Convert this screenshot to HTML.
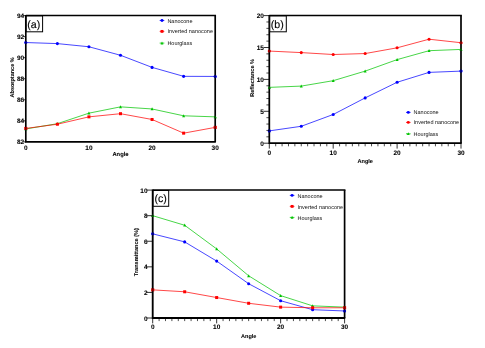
<!DOCTYPE html>
<html><head><meta charset="utf-8"><title>Figure</title>
<style>
html,body{margin:0;padding:0;background:#fff;}
body{width:485px;height:348px;overflow:hidden;}
svg{display:block;will-change:transform;text-rendering:geometricPrecision;font-family:"Liberation Sans",sans-serif;}
.t{font-size:6.45px;font-weight:bold;fill:#000;stroke:#000;stroke-width:.08px;}
.l{font-weight:bold;fill:#000;stroke:#000;stroke-width:.06px;}
.g{font-size:5.5px;fill:#111;}
.p{font-size:10.6px;fill:#000;stroke:#000;stroke-width:.12px;}
</style></head><body>
<svg width="485" height="348" viewBox="0 0 485 348">
<rect width="485" height="348" fill="#fff"/>
<g id="a">
<polyline points="25.8,42.54 57.37,43.6 88.93,46.75 120.5,55.28 152.07,67.38 183.63,76.33 215.2,76.43" fill="none" stroke="#0000ff" stroke-width="0.72"/>
<circle cx="25.8" cy="42.54" r="1.55" fill="#0000ff"/>
<circle cx="57.37" cy="43.6" r="1.55" fill="#0000ff"/>
<circle cx="88.93" cy="46.75" r="1.55" fill="#0000ff"/>
<circle cx="120.5" cy="55.28" r="1.55" fill="#0000ff"/>
<circle cx="152.07" cy="67.38" r="1.55" fill="#0000ff"/>
<circle cx="183.63" cy="76.33" r="1.55" fill="#0000ff"/>
<circle cx="215.2" cy="76.43" r="1.55" fill="#0000ff"/>
<polyline points="25.8,128.95 57.37,123.69 88.93,113.17 120.5,106.85 152.07,108.96 183.63,115.8 215.2,116.85" fill="none" stroke="#00c400" stroke-width="0.72"/>
<path d="M25.8 127.3l1.5 3h-3z" fill="#00c400"/>
<path d="M57.37 122.04l1.5 3h-3z" fill="#00c400"/>
<path d="M88.93 111.52l1.5 3h-3z" fill="#00c400"/>
<path d="M120.5 105.2l1.5 3h-3z" fill="#00c400"/>
<path d="M152.07 107.31l1.5 3h-3z" fill="#00c400"/>
<path d="M183.63 114.15l1.5 3h-3z" fill="#00c400"/>
<path d="M215.2 115.2l1.5 3h-3z" fill="#00c400"/>
<polyline points="25.8,128.43 57.37,124.22 88.93,116.85 120.5,113.69 152.07,119.48 183.63,133.16 215.2,127.38" fill="none" stroke="#ff0000" stroke-width="0.72"/>
<rect x="24.3" y="126.93" width="3" height="3" fill="#ff0000"/>
<rect x="55.87" y="122.72" width="3" height="3" fill="#ff0000"/>
<rect x="87.43" y="115.35" width="3" height="3" fill="#ff0000"/>
<rect x="119" y="112.19" width="3" height="3" fill="#ff0000"/>
<rect x="150.57" y="117.98" width="3" height="3" fill="#ff0000"/>
<rect x="182.13" y="131.66" width="3" height="3" fill="#ff0000"/>
<rect x="213.7" y="125.88" width="3" height="3" fill="#ff0000"/>
<path d="M25.8 15.6H216.05" fill="none" stroke="#000" stroke-width="1.5"/>
<path d="M215.2 15.6V141.9" fill="none" stroke="#000" stroke-width="1.7"/>
<path d="M25.8 14.95V141.9H215.85" fill="none" stroke="#000" stroke-width="1.65"/>
<g opacity="0.45">
<circle cx="25.8" cy="42.54" r="1.55" fill="#0000ff"/>
<circle cx="215.2" cy="76.43" r="1.55" fill="#0000ff"/>
<path d="M25.8 127.3l1.5 3h-3z" fill="#00c400"/>
<path d="M215.2 115.2l1.5 3h-3z" fill="#00c400"/>
<rect x="24.3" y="126.93" width="3" height="3" fill="#ff0000"/>
<rect x="213.7" y="125.88" width="3" height="3" fill="#ff0000"/>
</g>
<path d="M25.8 141.9h-2.8" stroke="#000" stroke-width="0.8"/>
<text x="24.1" y="144.25" text-anchor="end" class="t">82</text>
<path d="M25.8 120.85h-2.8" stroke="#000" stroke-width="0.8"/>
<text x="24.1" y="123.2" text-anchor="end" class="t">84</text>
<path d="M25.8 99.8h-2.8" stroke="#000" stroke-width="0.8"/>
<text x="24.1" y="102.15" text-anchor="end" class="t">86</text>
<path d="M25.8 78.75h-2.8" stroke="#000" stroke-width="0.8"/>
<text x="24.1" y="81.1" text-anchor="end" class="t">88</text>
<path d="M25.8 57.7h-2.8" stroke="#000" stroke-width="0.8"/>
<text x="24.1" y="60.05" text-anchor="end" class="t">90</text>
<path d="M25.8 36.65h-2.8" stroke="#000" stroke-width="0.8"/>
<text x="24.1" y="39" text-anchor="end" class="t">92</text>
<path d="M25.8 15.6h-2.8" stroke="#000" stroke-width="0.8"/>
<text x="24.1" y="17.95" text-anchor="end" class="t">94</text>
<text x="25.8" y="149.6" text-anchor="middle" class="t">0</text>
<text x="88.93" y="149.6" text-anchor="middle" class="t">10</text>
<text x="152.07" y="149.6" text-anchor="middle" class="t">20</text>
<text x="215.2" y="149.6" text-anchor="middle" class="t">30</text>
<text x="120.5" y="156.1" text-anchor="middle" class="l" font-size="5.8">Angle</text>
<text transform="translate(14.2 77.4) rotate(-90)" text-anchor="middle" class="l" font-size="5.5">Absorptance %</text>
<rect x="26.3" y="16" width="16.3" height="15.8" fill="#fff" stroke="#000" stroke-width="1"/>
<text x="33.7" y="27.5" text-anchor="middle" class="p">(a)</text>
<path d="M159.7 20.5h4.6" stroke="#0000ff" stroke-width="0.8"/>
<circle cx="162" cy="20.5" r="1.47" fill="#0000ff"/>
<text x="167.4" y="22.5" class="g">Nanocone</text>
<path d="M159.7 31.4h4.6" stroke="#ff0000" stroke-width="0.8"/>
<rect x="160.57" y="29.97" width="2.85" height="2.85" fill="#ff0000"/>
<text x="167.4" y="33.4" class="g">Inverted nanocone</text>
<path d="M159.7 43.1h4.6" stroke="#00c400" stroke-width="0.8"/>
<path d="M162 41.53l1.42 2.85h-2.85z" fill="#00c400"/>
<text x="167.4" y="45.1" class="g">Hourglass</text>
</g>
<g id="b">
<polyline points="269.3,130.89 301.25,126.29 333.2,114.49 365.15,97.9 397.1,82.27 429.05,72.38 461,71.11" fill="none" stroke="#0000ff" stroke-width="0.72"/>
<circle cx="269.3" cy="130.89" r="1.55" fill="#0000ff"/>
<circle cx="301.25" cy="126.29" r="1.55" fill="#0000ff"/>
<circle cx="333.2" cy="114.49" r="1.55" fill="#0000ff"/>
<circle cx="365.15" cy="97.9" r="1.55" fill="#0000ff"/>
<circle cx="397.1" cy="82.27" r="1.55" fill="#0000ff"/>
<circle cx="429.05" cy="72.38" r="1.55" fill="#0000ff"/>
<circle cx="461" cy="71.11" r="1.55" fill="#0000ff"/>
<polyline points="269.3,87.37 301.25,86.1 333.2,80.68 365.15,71.11 397.1,59.62 429.05,50.69 461,49.41" fill="none" stroke="#00c400" stroke-width="0.72"/>
<path d="M269.3 85.72l1.5 3h-3z" fill="#00c400"/>
<path d="M301.25 84.45l1.5 3h-3z" fill="#00c400"/>
<path d="M333.2 79.03l1.5 3h-3z" fill="#00c400"/>
<path d="M365.15 69.46l1.5 3h-3z" fill="#00c400"/>
<path d="M397.1 57.97l1.5 3h-3z" fill="#00c400"/>
<path d="M429.05 49.04l1.5 3h-3z" fill="#00c400"/>
<path d="M461 47.76l1.5 3h-3z" fill="#00c400"/>
<polyline points="269.3,51.07 301.25,52.6 333.2,54.52 365.15,53.56 397.1,47.82 429.05,39.21 461,42.72" fill="none" stroke="#ff0000" stroke-width="0.72"/>
<circle cx="269.3" cy="51.07" r="1.55" fill="#ff0000"/>
<circle cx="301.25" cy="52.6" r="1.55" fill="#ff0000"/>
<circle cx="333.2" cy="54.52" r="1.55" fill="#ff0000"/>
<circle cx="365.15" cy="53.56" r="1.55" fill="#ff0000"/>
<circle cx="397.1" cy="47.82" r="1.55" fill="#ff0000"/>
<circle cx="429.05" cy="39.21" r="1.55" fill="#ff0000"/>
<circle cx="461" cy="42.72" r="1.55" fill="#ff0000"/>
<path d="M269.3 15.6H461.85" fill="none" stroke="#000" stroke-width="1.5"/>
<path d="M461 15.6V143.2" fill="none" stroke="#000" stroke-width="1.7"/>
<path d="M269.3 14.95V143.2H461.65" fill="none" stroke="#000" stroke-width="1.75"/>
<g opacity="0.45">
<circle cx="269.3" cy="130.89" r="1.55" fill="#0000ff"/>
<circle cx="461" cy="71.11" r="1.55" fill="#0000ff"/>
<path d="M269.3 85.72l1.5 3h-3z" fill="#00c400"/>
<path d="M461 47.76l1.5 3h-3z" fill="#00c400"/>
<circle cx="269.3" cy="51.07" r="1.55" fill="#ff0000"/>
<circle cx="461" cy="42.72" r="1.55" fill="#ff0000"/>
</g>
<path d="M269.3 143.2h-5.8" stroke="#000" stroke-width="0.8"/>
<text x="263.9" y="145.8" text-anchor="end" class="t">0</text>
<path d="M269.3 111.3h-5.8" stroke="#000" stroke-width="0.8"/>
<text x="263.9" y="113.9" text-anchor="end" class="t">5</text>
<path d="M269.3 79.4h-5.8" stroke="#000" stroke-width="0.8"/>
<text x="263.9" y="82" text-anchor="end" class="t">10</text>
<path d="M269.3 47.5h-5.8" stroke="#000" stroke-width="0.8"/>
<text x="263.9" y="50.1" text-anchor="end" class="t">15</text>
<path d="M269.3 15.6h-5.8" stroke="#000" stroke-width="0.8"/>
<text x="263.9" y="18.2" text-anchor="end" class="t">20</text>
<path d="M269.3 136.82h-2.9" stroke="#000" stroke-width="0.7"/>
<path d="M269.3 130.44h-2.9" stroke="#000" stroke-width="0.7"/>
<path d="M269.3 124.06h-2.9" stroke="#000" stroke-width="0.7"/>
<path d="M269.3 117.68h-2.9" stroke="#000" stroke-width="0.7"/>
<path d="M269.3 104.92h-2.9" stroke="#000" stroke-width="0.7"/>
<path d="M269.3 98.54h-2.9" stroke="#000" stroke-width="0.7"/>
<path d="M269.3 92.16h-2.9" stroke="#000" stroke-width="0.7"/>
<path d="M269.3 85.78h-2.9" stroke="#000" stroke-width="0.7"/>
<path d="M269.3 73.02h-2.9" stroke="#000" stroke-width="0.7"/>
<path d="M269.3 66.64h-2.9" stroke="#000" stroke-width="0.7"/>
<path d="M269.3 60.26h-2.9" stroke="#000" stroke-width="0.7"/>
<path d="M269.3 53.88h-2.9" stroke="#000" stroke-width="0.7"/>
<path d="M269.3 41.12h-2.9" stroke="#000" stroke-width="0.7"/>
<path d="M269.3 34.74h-2.9" stroke="#000" stroke-width="0.7"/>
<path d="M269.3 28.36h-2.9" stroke="#000" stroke-width="0.7"/>
<path d="M269.3 21.98h-2.9" stroke="#000" stroke-width="0.7"/>
<path d="M269.3 143.2v5.4" stroke="#000" stroke-width="0.8"/>
<text x="269.3" y="155" text-anchor="middle" class="t">0</text>
<path d="M333.2 143.2v5.4" stroke="#000" stroke-width="0.8"/>
<text x="333.2" y="155" text-anchor="middle" class="t">10</text>
<path d="M397.1 143.2v5.4" stroke="#000" stroke-width="0.8"/>
<text x="397.1" y="155" text-anchor="middle" class="t">20</text>
<path d="M461 143.2v5.4" stroke="#000" stroke-width="0.8"/>
<text x="461" y="155" text-anchor="middle" class="t">30</text>
<path d="M275.69 143.2v3.1" stroke="#000" stroke-width="0.7"/>
<path d="M282.08 143.2v3.1" stroke="#000" stroke-width="0.7"/>
<path d="M288.47 143.2v3.1" stroke="#000" stroke-width="0.7"/>
<path d="M294.86 143.2v3.1" stroke="#000" stroke-width="0.7"/>
<path d="M301.25 143.2v3.1" stroke="#000" stroke-width="0.7"/>
<path d="M307.64 143.2v3.1" stroke="#000" stroke-width="0.7"/>
<path d="M314.03 143.2v3.1" stroke="#000" stroke-width="0.7"/>
<path d="M320.42 143.2v3.1" stroke="#000" stroke-width="0.7"/>
<path d="M326.81 143.2v3.1" stroke="#000" stroke-width="0.7"/>
<path d="M339.59 143.2v3.1" stroke="#000" stroke-width="0.7"/>
<path d="M345.98 143.2v3.1" stroke="#000" stroke-width="0.7"/>
<path d="M352.37 143.2v3.1" stroke="#000" stroke-width="0.7"/>
<path d="M358.76 143.2v3.1" stroke="#000" stroke-width="0.7"/>
<path d="M365.15 143.2v3.1" stroke="#000" stroke-width="0.7"/>
<path d="M371.54 143.2v3.1" stroke="#000" stroke-width="0.7"/>
<path d="M377.93 143.2v3.1" stroke="#000" stroke-width="0.7"/>
<path d="M384.32 143.2v3.1" stroke="#000" stroke-width="0.7"/>
<path d="M390.71 143.2v3.1" stroke="#000" stroke-width="0.7"/>
<path d="M403.49 143.2v3.1" stroke="#000" stroke-width="0.7"/>
<path d="M409.88 143.2v3.1" stroke="#000" stroke-width="0.7"/>
<path d="M416.27 143.2v3.1" stroke="#000" stroke-width="0.7"/>
<path d="M422.66 143.2v3.1" stroke="#000" stroke-width="0.7"/>
<path d="M429.05 143.2v3.1" stroke="#000" stroke-width="0.7"/>
<path d="M435.44 143.2v3.1" stroke="#000" stroke-width="0.7"/>
<path d="M441.83 143.2v3.1" stroke="#000" stroke-width="0.7"/>
<path d="M448.22 143.2v3.1" stroke="#000" stroke-width="0.7"/>
<path d="M454.61 143.2v3.1" stroke="#000" stroke-width="0.7"/>
<text x="365.2" y="162.8" text-anchor="middle" class="l" font-size="5.6">Angle</text>
<text transform="translate(254.2 77.9) rotate(-90)" text-anchor="middle" class="l" font-size="5.58">Reflectance %</text>
<rect x="269.8" y="16" width="16.5" height="15.8" fill="#fff" stroke="#000" stroke-width="1"/>
<text x="277.2" y="27.5" text-anchor="middle" class="p">(b)</text>
<path d="M406 112.4h4.6" stroke="#0000ff" stroke-width="0.8"/>
<circle cx="408.3" cy="112.4" r="1.47" fill="#0000ff"/>
<text x="413.6" y="114.4" class="g">Nanocone</text>
<path d="M406 122.4h4.6" stroke="#ff0000" stroke-width="0.8"/>
<circle cx="408.3" cy="122.4" r="1.47" fill="#ff0000"/>
<text x="413.6" y="124.4" class="g">Inverted nanocone</text>
<path d="M406 133.8h4.6" stroke="#00c400" stroke-width="0.8"/>
<path d="M408.3 132.23l1.42 2.85h-2.85z" fill="#00c400"/>
<text x="413.6" y="135.8" class="g">Hourglass</text>
</g>
<g id="c">
<polyline points="152.7,233.84 184.68,241.9 216.67,261.08 248.65,283.72 280.63,300.73 312.62,309.69 344.6,310.97" fill="none" stroke="#0000ff" stroke-width="0.72"/>
<circle cx="152.7" cy="233.84" r="1.55" fill="#0000ff"/>
<circle cx="184.68" cy="241.9" r="1.55" fill="#0000ff"/>
<circle cx="216.67" cy="261.08" r="1.55" fill="#0000ff"/>
<circle cx="248.65" cy="283.72" r="1.55" fill="#0000ff"/>
<circle cx="280.63" cy="300.73" r="1.55" fill="#0000ff"/>
<circle cx="312.62" cy="309.69" r="1.55" fill="#0000ff"/>
<circle cx="344.6" cy="310.97" r="1.55" fill="#0000ff"/>
<polyline points="152.7,215.68 184.68,225.27 216.67,248.93 248.65,275.79 280.63,295.62 312.62,305.85 344.6,307.13" fill="none" stroke="#00c400" stroke-width="0.72"/>
<path d="M152.7 214.03l1.5 3h-3z" fill="#00c400"/>
<path d="M184.68 223.62l1.5 3h-3z" fill="#00c400"/>
<path d="M216.67 247.28l1.5 3h-3z" fill="#00c400"/>
<path d="M248.65 274.14l1.5 3h-3z" fill="#00c400"/>
<path d="M280.63 293.97l1.5 3h-3z" fill="#00c400"/>
<path d="M312.62 304.2l1.5 3h-3z" fill="#00c400"/>
<path d="M344.6 305.48l1.5 3h-3z" fill="#00c400"/>
<polyline points="152.7,289.86 184.68,291.78 216.67,297.54 248.65,303.29 280.63,307.13 312.62,307.77 344.6,307.77" fill="none" stroke="#ff0000" stroke-width="0.72"/>
<rect x="151.2" y="288.36" width="3" height="3" fill="#ff0000"/>
<rect x="183.18" y="290.28" width="3" height="3" fill="#ff0000"/>
<rect x="215.17" y="296.04" width="3" height="3" fill="#ff0000"/>
<rect x="247.15" y="301.79" width="3" height="3" fill="#ff0000"/>
<rect x="279.13" y="305.63" width="3" height="3" fill="#ff0000"/>
<rect x="311.12" y="306.27" width="3" height="3" fill="#ff0000"/>
<rect x="343.1" y="306.27" width="3" height="3" fill="#ff0000"/>
<path d="M152.7 190.1H345.45" fill="none" stroke="#000" stroke-width="1.5"/>
<path d="M344.6 190.1V318" fill="none" stroke="#000" stroke-width="1.7"/>
<path d="M152.7 189.45V318H345.25" fill="none" stroke="#000" stroke-width="1.85"/>
<g opacity="0.45">
<circle cx="152.7" cy="233.84" r="1.55" fill="#0000ff"/>
<circle cx="344.6" cy="310.97" r="1.55" fill="#0000ff"/>
<path d="M152.7 214.03l1.5 3h-3z" fill="#00c400"/>
<path d="M344.6 305.48l1.5 3h-3z" fill="#00c400"/>
<rect x="151.2" y="288.36" width="3" height="3" fill="#ff0000"/>
<rect x="343.1" y="306.27" width="3" height="3" fill="#ff0000"/>
</g>
<path d="M152.7 318h-5.8" stroke="#000" stroke-width="0.8"/>
<text x="147.5" y="320.5" text-anchor="end" class="t">0</text>
<path d="M152.7 292.42h-5.8" stroke="#000" stroke-width="0.8"/>
<text x="147.5" y="294.92" text-anchor="end" class="t">2</text>
<path d="M152.7 266.84h-5.8" stroke="#000" stroke-width="0.8"/>
<text x="147.5" y="269.34" text-anchor="end" class="t">4</text>
<path d="M152.7 241.26h-5.8" stroke="#000" stroke-width="0.8"/>
<text x="147.5" y="243.76" text-anchor="end" class="t">6</text>
<path d="M152.7 215.68h-5.8" stroke="#000" stroke-width="0.8"/>
<text x="147.5" y="218.18" text-anchor="end" class="t">8</text>
<path d="M152.7 190.1h-5.8" stroke="#000" stroke-width="0.8"/>
<text x="147.5" y="192.6" text-anchor="end" class="t">10</text>
<path d="M152.7 318v5.4" stroke="#000" stroke-width="0.8"/>
<text x="152.7" y="329" text-anchor="middle" class="t">0</text>
<path d="M216.67 318v5.4" stroke="#000" stroke-width="0.8"/>
<text x="216.67" y="329" text-anchor="middle" class="t">10</text>
<path d="M280.63 318v5.4" stroke="#000" stroke-width="0.8"/>
<text x="280.63" y="329" text-anchor="middle" class="t">20</text>
<path d="M344.6 318v5.4" stroke="#000" stroke-width="0.8"/>
<text x="344.6" y="329" text-anchor="middle" class="t">30</text>
<path d="M159.1 318v3.1" stroke="#000" stroke-width="0.7"/>
<path d="M165.49 318v3.1" stroke="#000" stroke-width="0.7"/>
<path d="M171.89 318v3.1" stroke="#000" stroke-width="0.7"/>
<path d="M178.29 318v3.1" stroke="#000" stroke-width="0.7"/>
<path d="M184.68 318v3.1" stroke="#000" stroke-width="0.7"/>
<path d="M191.08 318v3.1" stroke="#000" stroke-width="0.7"/>
<path d="M197.48 318v3.1" stroke="#000" stroke-width="0.7"/>
<path d="M203.87 318v3.1" stroke="#000" stroke-width="0.7"/>
<path d="M210.27 318v3.1" stroke="#000" stroke-width="0.7"/>
<path d="M223.06 318v3.1" stroke="#000" stroke-width="0.7"/>
<path d="M229.46 318v3.1" stroke="#000" stroke-width="0.7"/>
<path d="M235.86 318v3.1" stroke="#000" stroke-width="0.7"/>
<path d="M242.25 318v3.1" stroke="#000" stroke-width="0.7"/>
<path d="M248.65 318v3.1" stroke="#000" stroke-width="0.7"/>
<path d="M255.05 318v3.1" stroke="#000" stroke-width="0.7"/>
<path d="M261.44 318v3.1" stroke="#000" stroke-width="0.7"/>
<path d="M267.84 318v3.1" stroke="#000" stroke-width="0.7"/>
<path d="M274.24 318v3.1" stroke="#000" stroke-width="0.7"/>
<path d="M287.03 318v3.1" stroke="#000" stroke-width="0.7"/>
<path d="M293.43 318v3.1" stroke="#000" stroke-width="0.7"/>
<path d="M299.82 318v3.1" stroke="#000" stroke-width="0.7"/>
<path d="M306.22 318v3.1" stroke="#000" stroke-width="0.7"/>
<path d="M312.62 318v3.1" stroke="#000" stroke-width="0.7"/>
<path d="M319.01 318v3.1" stroke="#000" stroke-width="0.7"/>
<path d="M325.41 318v3.1" stroke="#000" stroke-width="0.7"/>
<path d="M331.81 318v3.1" stroke="#000" stroke-width="0.7"/>
<path d="M338.2 318v3.1" stroke="#000" stroke-width="0.7"/>
<text x="248.7" y="337.5" text-anchor="middle" class="l" font-size="5.5">Angle</text>
<text transform="translate(138 252.15) rotate(-90)" text-anchor="middle" class="l" font-size="5.58">Transmittance (%)</text>
<rect x="153.2" y="190.5" width="15.5" height="15.8" fill="#fff" stroke="#000" stroke-width="1"/>
<text x="160.6" y="202" text-anchor="middle" class="p">(c)</text>
<path d="M289.8 195.4h4.6" stroke="#0000ff" stroke-width="0.8"/>
<circle cx="292.1" cy="195.4" r="1.47" fill="#0000ff"/>
<text x="297.5" y="198" class="g">Nanocone</text>
<path d="M289.8 206.4h4.6" stroke="#ff0000" stroke-width="0.8"/>
<rect x="290.68" y="204.97" width="2.85" height="2.85" fill="#ff0000"/>
<text x="297.5" y="209" class="g">Inverted nanocone</text>
<path d="M289.8 217.4h4.6" stroke="#00c400" stroke-width="0.8"/>
<path d="M292.1 215.83l1.42 2.85h-2.85z" fill="#00c400"/>
<text x="297.5" y="220" class="g">Hourglass</text>
</g>
</svg>
</body></html>
